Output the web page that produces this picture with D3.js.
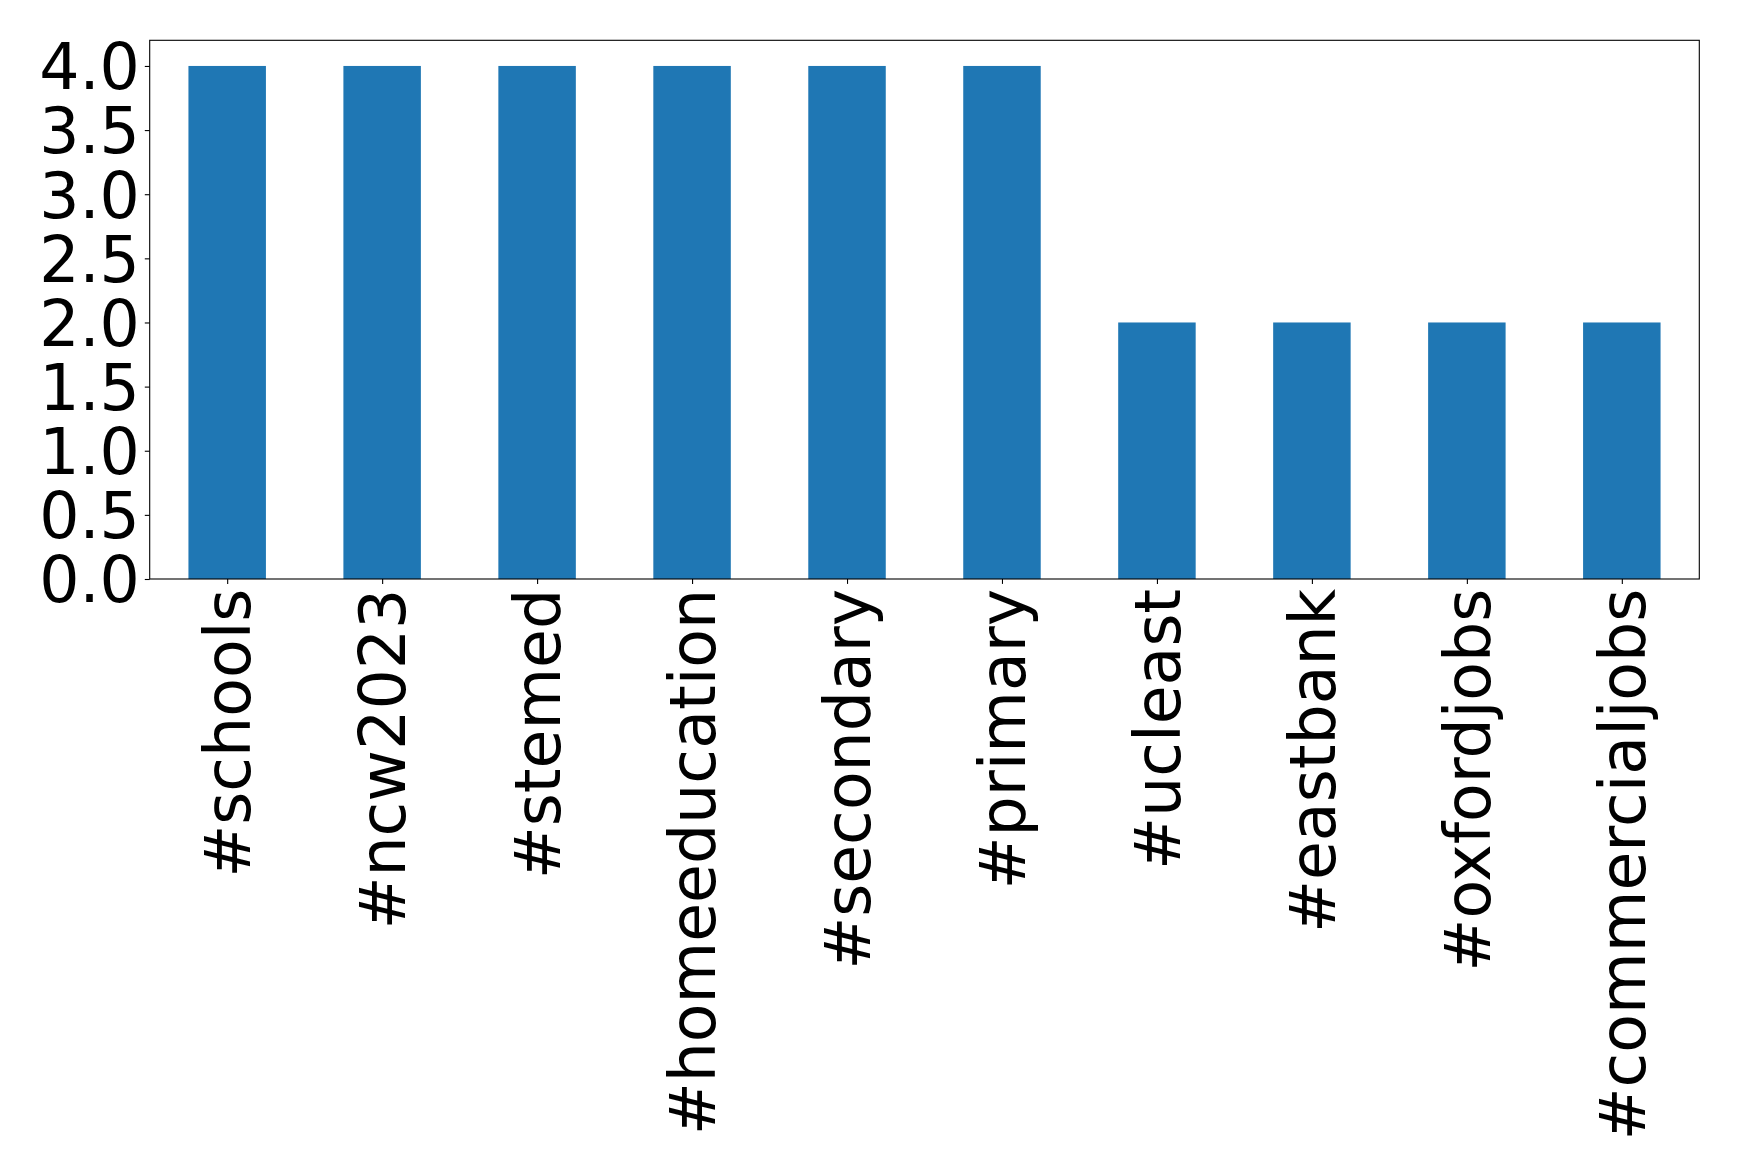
<!DOCTYPE html>
<html><head><meta charset="utf-8">
<script src="https://cdn.jsdelivr.net/npm/d3@7"></script>
<style>body{margin:0;background:#fff}svg{display:block}</style>
</head><body>
<script>
const categories = ["#schools","#ncw2023","#stemed","#homeeducation","#secondary","#primary","#ucleast","#eastbank","#oxfordjobs","#commercialjobs"];
const values = [4,4,4,4,4,4,2,2,2,2];
const yTicks = [0,0.5,1.0,1.5,2.0,2.5,3.0,3.5,4.0];

const W=1739,H=1173;
const L=149.7,R=1699.3,T=40.3,B=579;
const svg=d3.select("body").append("svg").attr("width",W).attr("height",H);
const x=d3.scaleLinear().domain([-0.5,categories.length-0.5]).range([L,R]);
const y=d3.scaleLinear().domain([0,4.2]).range([B,T]);
const font="DejaVu Sans";
const fs=63.3;

svg.selectAll("rect.bar").data(values).enter().append("rect")
 .attr("class","bar").attr("x",(d,i)=>x(i-0.25)).attr("width",(d,i)=>x(i+0.25)-x(i-0.25))
 .attr("y",d=>y(d)).attr("height",d=>y(0)-y(d)).attr("fill","#1f77b4");

const ya=svg.append("g").attr("transform",`translate(${L},0)`)
 .call(d3.axisLeft(y).tickValues(yTicks).tickFormat(d3.format(".1f")).tickSizeOuter(0).tickSize(4.9).tickPadding(4.9));
ya.select(".domain").remove();
ya.selectAll("line").attr("stroke","#000").attr("stroke-width",1.1);
ya.selectAll("text").attr("font-family",font).attr("font-size",fs).attr("fill","#000").attr("dy","0.36em");

const xa=svg.append("g").attr("transform",`translate(0,${B})`)
 .call(d3.axisBottom(x).tickValues(d3.range(categories.length)).tickFormat(i=>categories[i]).tickSizeOuter(0).tickSize(4.9).tickPadding(4.9));
xa.select(".domain").remove();
xa.selectAll("line").attr("stroke","#000").attr("stroke-width",1.1);
xa.selectAll("text").attr("font-family",font).attr("font-size",fs).attr("fill","#000")
 .attr("text-anchor","end").attr("dy","0.36em").attr("y",0).attr("x",0)
 .attr("transform","translate(0,9.8) rotate(-90)");

svg.append("rect").attr("x",L).attr("y",T).attr("width",R-L).attr("height",B-T)
 .attr("fill","none").attr("stroke","#000").attr("stroke-width",1.1);
</script>
</body></html>
